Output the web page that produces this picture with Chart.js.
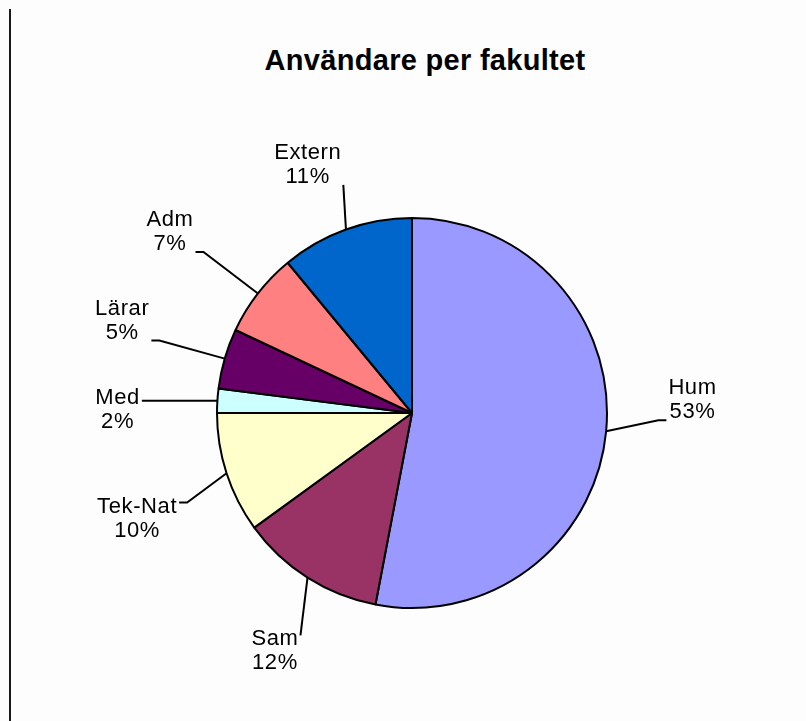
<!DOCTYPE html>
<html>
<head>
<meta charset="utf-8">
<script src="https://cdn.jsdelivr.net/npm/chart.js@4"></script>
<style>
  body { margin: 0; background: #fdfdfd; }
  #wrap { position: relative; width: 806px; height: 721px; }
  #edge { position: absolute; left: 9px; top: 9px; width: 2px; height: 712px; background: #1a1a1a; }
  #title { position: absolute; left: 0; top: 44px; width: 850px; text-align: center;
           font: bold 29px "Liberation Sans", Arial, sans-serif; color: #000; letter-spacing: 0.3px; }
  canvas { position: absolute; left: 0; top: 0; }
</style>
</head>
<body>
<div id="wrap">
  <div id="edge"></div>
  <div id="title">Användare per fakultet</div>
  <canvas id="pieChart" width="806" height="721"></canvas>
</div>
<script>
var kategorier = ['Hum', 'Sam', 'Tek-Nat', 'Med', 'Lärar', 'Adm', 'Extern'];
var andelar = [53, 12, 10, 2, 5, 7, 11];
var farger = ['#9999FF', '#993366', '#FFFFCC', '#CCFFFF', '#660066', '#FF8080', '#0066CC'];

// placering av etiketter: avstånd (i radier) och vinkeljustering (grader)
var etikettAvstand = [1.44, 1.41, 1.51, 1.51, 1.56, 1.55, 1.38];
var etikettVinkel = [-8, -2.5, -3, -3, 1.5, -1, -3];

var etiketter = {
    id: 'etiketter',
    afterDatasetsDraw: function(chart) {
        var ctx = chart.ctx;
        var meta = chart.getDatasetMeta(0);
        ctx.save();
        ctx.font = '22px "Liberation Sans", Arial, sans-serif';
        ctx.letterSpacing = '0.6px';
        ctx.fillStyle = '#000';
        ctx.strokeStyle = '#000';
        ctx.lineWidth = 2;
        ctx.textAlign = 'center';
        ctx.textBaseline = 'middle';
        var total = andelar.reduce((a, b) => a + b, 0);
        meta.data.forEach(function(arc, i) {
            var cx = arc.x, cy = arc.y, r = arc.outerRadius;
            var mid = (arc.startAngle + arc.endAngle) / 2;
            var ax = cx + r * Math.cos(mid);
            var ay = cy + r * Math.sin(mid);
            var la = mid + etikettVinkel[i] * Math.PI / 180;
            var lx = cx + r * etikettAvstand[i] * Math.cos(la);
            var ly = cy + r * etikettAvstand[i] * Math.sin(la);
            var rad1 = kategorier[i];
            var rad2 = Math.round(andelar[i] / total * 100) + '%';
            var w = Math.max(ctx.measureText(rad1).width, ctx.measureText(rad2).width);
            var top = ly - 24, bottom = ly + 24;
            var left = lx - w / 2 - 2, right = lx + w / 2 + 2;
            ctx.fillText(rad1, lx, ly - 12);
            ctx.fillText(rad2, lx, ly + 12);

            // ledarlinje
            var ex, ey, knaX = null;
            if (ax > right) {
                ex = right; ey = Math.min(Math.max(ay, top + 8), bottom - 4);
                knaX = ex + 8;
            } else if (ax < left) {
                ex = left; ey = Math.min(Math.max(ay, top + 8), bottom - 4);
                knaX = ex - 8;
            } else {
                ex = Math.min(Math.max(ax, left), right);
                ey = ay < top ? top : bottom;
            }
            ctx.beginPath();
            ctx.moveTo(ex, ey);
            if (knaX !== null && Math.abs(ax - knaX) > 20) ctx.lineTo(knaX, ey);
            ctx.lineTo(ax, ay);
            ctx.stroke();
        });
        ctx.restore();
    }
};

var Piectx = document.getElementById('pieChart').getContext('2d');
var myChart = new Chart(Piectx, {
    type: 'pie',
    data: {
        labels: kategorier,
        datasets: [{
            data: andelar,
            backgroundColor: farger,
            borderColor: '#000',
            borderWidth: 2,
            radius: 195
        }]
    },
    options: {
        responsive: false,
        animation: false,
        layout: { padding: { left: 18, right: 0, top: 218, bottom: 113 } },
        plugins: {
            legend: { display: false },
            tooltip: { enabled: false },
            title: { display: false }
        }
    },
    plugins: [etiketter]
});
</script>
</body>
</html>
